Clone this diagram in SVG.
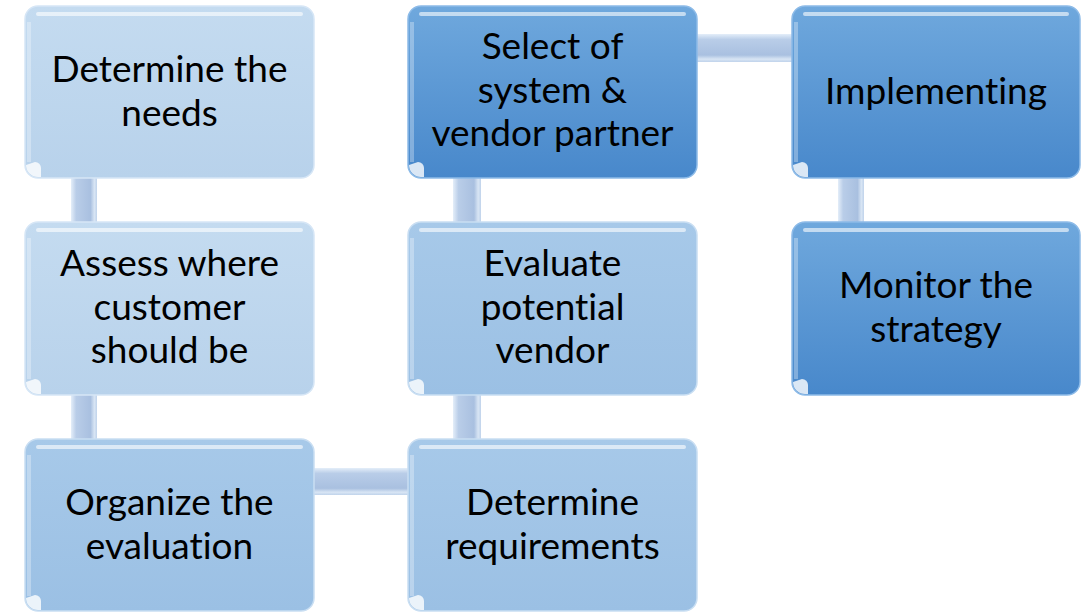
<svg xmlns="http://www.w3.org/2000/svg" width="1082" height="612" viewBox="0 0 1082 612">
<style>
.lbl{font-family:Lato,"Open Sans","Liberation Sans",sans-serif;font-size:37px;fill:#000;text-anchor:middle;font-variant-ligatures:none;font-feature-settings:"liga" 0}
.hl{fill:none;stroke:#ffffff;stroke-opacity:0.6;stroke-width:4;stroke-linecap:round}
.le{fill:none;stroke:#ffffff;stroke-opacity:0.3;stroke-width:4}
.spot{fill:#ffffff;fill-opacity:0.8}
</style>
<defs>
<linearGradient id="gLight" x1="0" y1="0" x2="0" y2="1"><stop offset="0" stop-color="#C4DBF0"/><stop offset="1" stop-color="#B8D2EB"/></linearGradient>
<linearGradient id="gMid" x1="0" y1="0" x2="0" y2="1"><stop offset="0" stop-color="#A7C9E9"/><stop offset="1" stop-color="#9BC0E4"/></linearGradient>
<linearGradient id="gDark" x1="0" y1="0" x2="0" y2="1"><stop offset="0" stop-color="#6FA8DD"/><stop offset="1" stop-color="#4888CB"/></linearGradient>
<linearGradient id="gV" x1="0" y1="0" x2="1" y2="0"><stop offset="0" stop-color="#E4EEF9"/><stop offset="0.2" stop-color="#B9CDE8"/><stop offset="0.75" stop-color="#A9C0E0"/><stop offset="0.9" stop-color="#D8E5F4"/><stop offset="1" stop-color="#C0D3EB"/></linearGradient>
<linearGradient id="gH" x1="0" y1="0" x2="0" y2="1"><stop offset="0" stop-color="#E4EEF9"/><stop offset="0.2" stop-color="#B9CDE8"/><stop offset="0.75" stop-color="#A9C0E0"/><stop offset="0.9" stop-color="#D8E5F4"/><stop offset="1" stop-color="#C0D3EB"/></linearGradient>
</defs>
<g id="connectors">
<rect x="71" y="176" width="26" height="48" fill="url(#gV)"/>
<rect x="71" y="393" width="26" height="48" fill="url(#gV)"/>
<rect x="453" y="176" width="28" height="48" fill="url(#gV)"/>
<rect x="453" y="393" width="28" height="48" fill="url(#gV)"/>
<rect x="838" y="176" width="26" height="48" fill="url(#gV)"/>
<rect x="312" y="468" width="98" height="27" fill="url(#gH)"/>
<rect x="695" y="34" width="99" height="28" fill="url(#gH)"/>
</g>
<g id="n1">
<rect x="25" y="6" width="289" height="172" rx="13" fill="url(#gLight)" stroke="#D6E6F6" stroke-width="1.5"/>
<path class="hl" d="M38 14 H301"/><path class="le" d="M29 22 V162"/><path class="spot" d="M26 165 a12 12 0 0 0 12 12 h3 v-9 a6 6 0 0 0 -6 -6 z"/>
<text class="lbl" x="169.5" y="82">Determine the</text><text class="lbl" x="169.5" y="126">needs</text>
</g>
<g id="n2">
<rect x="25" y="222" width="289" height="173" rx="13" fill="url(#gLight)" stroke="#D6E6F6" stroke-width="1.5"/>
<path class="hl" d="M38 230 H301"/><path class="le" d="M29 238 V379"/><path class="spot" d="M26 382 a12 12 0 0 0 12 12 h3 v-9 a6 6 0 0 0 -6 -6 z"/>
<text class="lbl" x="169.5" y="276">Assess where</text><text class="lbl" x="169.5" y="320">customer</text><text class="lbl" x="169.5" y="363">should be</text>
</g>
<g id="n3">
<rect x="25" y="439" width="289" height="172" rx="13" fill="url(#gMid)" stroke="#C9DEF2" stroke-width="1.5"/>
<path class="hl" d="M38 447 H301"/><path class="le" d="M29 455 V596"/><path class="spot" d="M26 598 a12 12 0 0 0 12 12 h3 v-9 a6 6 0 0 0 -6 -6 z"/>
<text class="lbl" x="169.5" y="515">Organize the</text><text class="lbl" x="169.5" y="559">evaluation</text>
</g>
<g id="n4">
<rect x="408" y="439" width="289" height="172" rx="13" fill="url(#gMid)" stroke="#C9DEF2" stroke-width="1.5"/>
<path class="hl" d="M421 447 H684"/><path class="le" d="M412 455 V596"/><path class="spot" d="M409 598 a12 12 0 0 0 12 12 h3 v-9 a6 6 0 0 0 -6 -6 z"/>
<text class="lbl" x="552.5" y="515">Determine</text><text class="lbl" x="552.5" y="559">requirements</text>
</g>
<g id="n5">
<rect x="408" y="222" width="289" height="173" rx="13" fill="url(#gMid)" stroke="#C9DEF2" stroke-width="1.5"/>
<path class="hl" d="M421 230 H684"/><path class="le" d="M412 238 V379"/><path class="spot" d="M409 382 a12 12 0 0 0 12 12 h3 v-9 a6 6 0 0 0 -6 -6 z"/>
<text class="lbl" x="552.5" y="276">Evaluate</text><text class="lbl" x="552.5" y="320">potential</text><text class="lbl" x="552.5" y="363">vendor</text>
</g>
<g id="n6">
<rect x="408" y="6" width="289" height="172" rx="13" fill="url(#gDark)" stroke="#8DBBE8" stroke-width="1.5"/>
<path class="hl" d="M421 14 H684"/><path class="le" d="M412 22 V162"/><path class="spot" d="M409 165 a12 12 0 0 0 12 12 h3 v-9 a6 6 0 0 0 -6 -6 z"/>
<text class="lbl" x="552.5" y="59">Select of</text><text class="lbl" x="552.5" y="103">system &amp;</text><text class="lbl" x="552.5" y="146">vendor partner</text>
</g>
<g id="n7">
<rect x="792" y="6" width="288" height="172" rx="13" fill="url(#gDark)" stroke="#8DBBE8" stroke-width="1.5"/>
<path class="hl" d="M805 14 H1067"/><path class="le" d="M796 22 V162"/><path class="spot" d="M793 165 a12 12 0 0 0 12 12 h3 v-9 a6 6 0 0 0 -6 -6 z"/>
<text class="lbl" x="936" y="104">Implementing</text>
</g>
<g id="n8">
<rect x="792" y="222" width="288" height="173" rx="13" fill="url(#gDark)" stroke="#8DBBE8" stroke-width="1.5"/>
<path class="hl" d="M805 230 H1067"/><path class="le" d="M796 238 V379"/><path class="spot" d="M793 382 a12 12 0 0 0 12 12 h3 v-9 a6 6 0 0 0 -6 -6 z"/>
<text class="lbl" x="936" y="298">Monitor the</text><text class="lbl" x="936" y="342">strategy</text>
</g>
</svg>
